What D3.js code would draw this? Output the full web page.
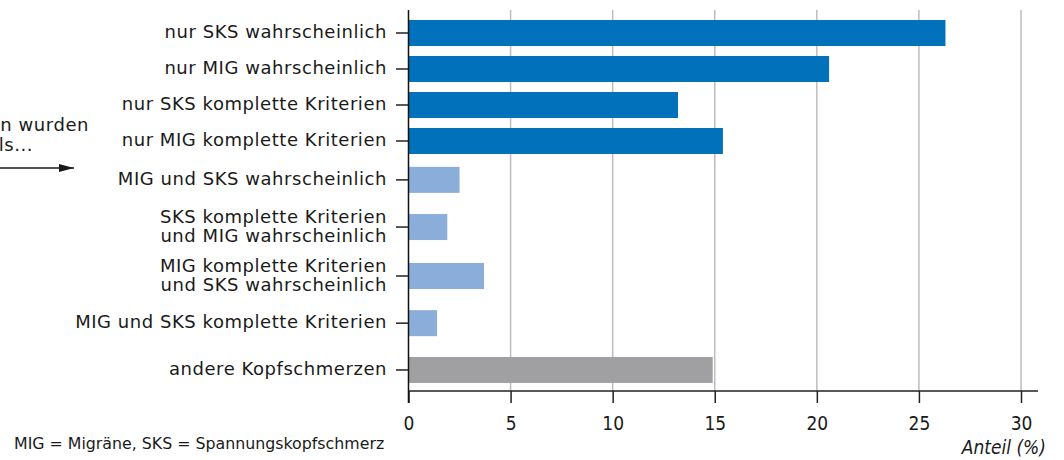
<!DOCTYPE html>
<html lang="de">
  <head>
    <meta charset="utf-8" />
    <title>Kopfschmerz-Diagnosen</title>
    <script type="text/javascript" src="https://d3js.org/d3.v7.min.js"></script>
    <style>
      body { margin: 0; background: #fff; }
      svg text { fill: #1a1a1a; }
    </style>
  </head>
  <body>
    <div id="graph"></div>

    <script type="text/javascript">
      /********************************
       * data
       ********************************/

      const categories = [
        ["nur SKS wahrscheinlich"],
        ["nur MIG wahrscheinlich"],
        ["nur SKS komplette Kriterien"],
        ["nur MIG komplette Kriterien"],
        ["MIG und SKS wahrscheinlich"],
        ["SKS komplette Kriterien", "und MIG wahrscheinlich"],
        ["MIG komplette Kriterien", "und SKS wahrscheinlich"],
        ["MIG und SKS komplette Kriterien"],
        ["andere Kopfschmerzen"],
      ];
      const values = [26.3, 20.6, 13.2, 15.4, 2.5, 1.9, 3.7, 1.4, 14.9];
      const groups = ["single", "single", "single", "single", "both", "both", "both", "both", "other"];
      const xTicks = [0, 5, 10, 15, 20, 25, 30];

      const data = categories.map((c, i) => ({ label: c, value: values[i], group: groups[i] }));

      /***************************
       * layout
       **************************/

      const width = 1064;
      const height = 460;
      // row slots (uneven because of the two-line labels)
      const rowSlot = [0, 1, 2, 3, 4.08, 5.39, 6.75, 8.06, 9.36];

      const colors = { single: "#0071ba", both: "#8badda", other: "#a0a0a2" };
      const labelFont = "'DejaVu Sans', sans-serif";
      const tickFont = "'Liberation Sans Narrow', 'DejaVu Sans Condensed', sans-serif";

      const svg = d3
        .select("div#graph")
        .append("svg")
        .attr("width", width)
        .attr("height", height);

      /****************************
       * scale
       *************************/

      const xScale = d3.scaleLinear().domain([0, 30]).range([408.5, 1021]);
      const yScale = d3.scaleLinear().domain([0, 1]).range([33, 69]);
      const barH = 26;

      // grid lines
      svg
        .append("g")
        .selectAll("line")
        .data(xTicks.filter((d) => d > 0))
        .join("line")
        .attr("x1", (d) => xScale(d))
        .attr("x2", (d) => xScale(d))
        .attr("y1", 10)
        .attr("y2", 391)
        .attr("stroke", "#bdbdbd")
        .attr("stroke-width", 1.5);

      /********************************
       * bars
       * *******************************/
      svg
        .append("g")
        .selectAll("rect")
        .data(data)
        .join("rect")
        .attr("x", xScale(0))
        .attr("y", (d, i) => yScale(rowSlot[i]) - barH / 2)
        .attr("width", (d) => xScale(d.value) - xScale(0))
        .attr("height", barH)
        .attr("fill", (d) => colors[d.group]);

      /*********************************
       * axes
       *******************************/
      const xAxis = d3.axisBottom(xScale).tickValues(xTicks).tickSize(12).tickPadding(14).tickFormat(d3.format("d"));

      const xAxisGroup = svg
        .append("g")
        .attr("transform", "translate(0,391)")
        .call(xAxis);
      xAxisGroup.select(".domain").remove();
      xAxisGroup.selectAll(".tick line").attr("stroke", "#222").attr("stroke-width", 1.5);
      xAxisGroup
        .selectAll(".tick text")
        .attr("font-family", tickFont)
        .attr("font-size", 19)
        .attr("fill", "#1a1a1a");

      svg
        .append("line")
        .attr("x1", xScale(0))
        .attr("x2", 1038)
        .attr("y1", 391)
        .attr("y2", 391)
        .attr("stroke", "#222")
        .attr("stroke-width", 1.5);

      // y axis line
      svg
        .append("line")
        .attr("x1", xScale(0))
        .attr("x2", xScale(0))
        .attr("y1", 10)
        .attr("y2", 403)
        .attr("stroke", "#111")
        .attr("stroke-width", 1.5);

      // category ticks and labels
      const rows = svg
        .append("g")
        .selectAll("g")
        .data(data)
        .join("g")
        .attr("transform", (d, i) => `translate(0,${yScale(rowSlot[i])})`);

      rows
        .append("line")
        .attr("x1", 396)
        .attr("x2", xScale(0))
        .attr("stroke", "#222")
        .attr("stroke-width", 1.5);

      rows
        .append("text")
        .attr("text-anchor", "end")
        .attr("font-family", labelFont)
        .attr("font-size", 18)
        .attr("letter-spacing", 0.55)
        .attr("x", 387)
        .selectAll("tspan")
        .data((d) => d.label.map((t, j) => ({ t, j, n: d.label.length })))
        .join("tspan")
        .attr("x", 387)
        .attr("y", (d) => (d.j - (d.n - 1) / 2) * 19 - 1)
        .attr("dy", "0.35em")
        .text((d) => d.t);

      // axis title
      svg
        .append("text")
        .attr("x", 1046)
        .attr("y", 454)
        .attr("text-anchor", "end")
        .attr("font-family", tickFont)
        .attr("font-style", "italic")
        .attr("font-size", 19)
        .text("Anteil (%)");

      // footnote
      svg
        .append("text")
        .attr("x", 14)
        .attr("y", 449)
        .attr("font-family", labelFont)
        .attr("font-size", 15.8)
        .text("MIG = Migräne, SKS = Spannungskopfschmerz");

      // side note with arrow (partly cut by the left edge, as in the original)
      const note = svg
        .append("text")
        .attr("text-anchor", "end")
        .attr("font-family", labelFont)
        .attr("font-size", 18)
        .attr("letter-spacing", 0.55);
      note.append("tspan").attr("x", 89).attr("y", 131).text("Die Kopfschmerzen wurden");
      note.append("tspan").attr("x", 33).attr("y", 151).text("eingestuft als...");

      svg
        .append("defs")
        .append("marker")
        .attr("id", "arrow")
        .attr("viewBox", "0 0 10 10")
        .attr("preserveAspectRatio", "none")
        .attr("refX", 10)
        .attr("refY", 5)
        .attr("markerWidth", 15)
        .attr("markerHeight", 8)
        .attr("markerUnits", "userSpaceOnUse")
        .attr("orient", "auto")
        .append("path")
        .attr("d", "M0,0L10,5L0,10z")
        .attr("fill", "#1a1a1a");

      svg
        .append("line")
        .attr("x1", 0)
        .attr("x2", 74)
        .attr("y1", 168)
        .attr("y2", 168)
        .attr("stroke", "#1a1a1a")
        .attr("stroke-width", 1.5)
        .attr("marker-end", "url(#arrow)");
    </script>
  </body>
</html>
